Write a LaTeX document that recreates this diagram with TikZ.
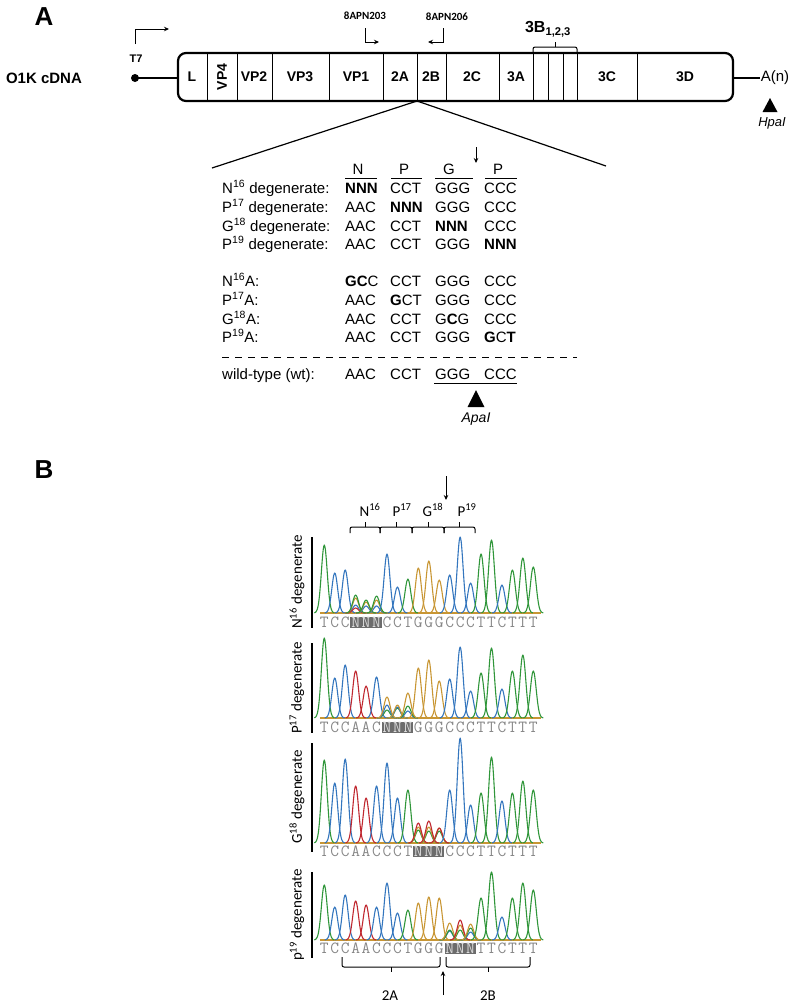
\documentclass[tikz,border=0pt]{standalone}
\usepackage{fontspec}
\setmainfont{Liberation Sans}
\newfontfamily\calfont{Carlito}
\usetikzlibrary{arrows.meta}

\definecolor{cT}{RGB}{48,150,58}
\definecolor{cC}{RGB}{52,118,190}
\definecolor{cG}{RGB}{200,150,52}
\definecolor{cA}{RGB}{192,40,48}
\definecolor{seqgray}{RGB}{135,135,135}
\definecolor{nfond}{RGB}{108,108,108}
\definecolor{nlight}{RGB}{220,220,220}

\newcommand{\nbase}{\textcolor{nlight}{N}}
\newcommand{\peakat}[4]{\draw[trace,#4] plot[domain=-10:10,samples=21,smooth] ({#1+(\x)},{#2-#3*exp(-((\x)*(\x)/17))});}

\tikzset{
  lettre/.style={font=\fontsize{26}{30}\selectfont\bfseries},
  seg/.style={font=\fontsize{14}{17}\selectfont\bfseries},
  primer/.style={font=\calfont\fontsize{11}{13}\selectfont\bfseries},
  tab/.style={anchor=west, inner sep=0pt, text height=11pt, text depth=3pt, font=\fontsize{15}{18}\selectfont},
  fleche/.style={-{Stealth[length=5pt,width=4.5pt]}, line width=1pt},
  brace/.style={line width=1pt, rounded corners=2pt},
  trace/.style={line width=1.1pt, line join=round},
  seqtxt/.style={inner sep=0pt, font=\ttfamily\fontsize{17}{17}\selectfont, text=seqgray},
  nbox/.style={fill=nfond},
  degen/.style={rotate=90, font=\calfont\fontsize{15}{18}\selectfont},
  calh/.style={font=\calfont\fontsize{15}{18}\selectfont},
}

\begin{document}
\begin{tikzpicture}[x=1pt,y=-1pt]
\useasboundingbox (0,0) rectangle (800,1005);

% Panneau A
\node[lettre] (lblA) at (44,17) {A};
\node[font=\fontsize{15}{18}\selectfont\bfseries] (cdna) at (44,78) {O1K cDNA};

% promoteur T7
\coordinate (t7) at (135,78);
\coordinate (t7a) at (135,44);
\coordinate (t7b) at (135,29);
\coordinate (t7c) at (169,29);
\coordinate (boxl) at (178,78);
\fill (t7) circle (4pt);
\node[font=\fontsize{11}{13}\selectfont\bfseries] (t7lbl) at (136,59) {T7};
\draw[fleche] (t7a) -- (t7b) -- (t7c);
\draw[line width=2pt] (t7) -- (boxl);

% genome
\draw[line width=2.2pt, rounded corners=8pt] (178,53) rectangle (733,101);
\foreach \xd in {207,237,272,329,383,417,446,499,533,548,563,577,637}
  \draw[line width=0.7pt] (\xd,53) -- (\xd,101);
\foreach \xl/\nom in {192/L, 254/VP2, 300/VP3, 356/VP1, 400/2A, 431/2B, 472/2C, 516/3A, 607/3C, 685/3D}
  \node[seg] (seg-\nom) at (\xl,77) {\nom};
\node[seg, rotate=90] (seg-VP4) at (222,77) {VP4};

% queue poly(A) et HpaI
\node[font=\fontsize{15}{18}\selectfont, inner sep=1pt] (An) at (775,78) {A(n)};
\draw[line width=2pt] (733,78) -- (An.west);
\fill (770,98) -- (777.5,112) -- (762.5,112) -- cycle;
\node[font=\fontsize{13}{16}\selectfont\itshape] (hpa) at (772,123) {HpaI};

% amorces
\node[primer] (p203) at (365,16) {8APN203};
\node[primer] (p206) at (447,17) {8APN206};
\draw[fleche] (365,28) -- (365,42) -- (379,42);
\draw[fleche] (443,28) -- (443,42) -- (428,42);

% 3B
\node[font=\fontsize{16}{19}\selectfont\bfseries] (b3) at (548,29) {3B\textsubscript{1,2,3}};
\draw[brace] (533,53) -- (533,47) -- (577,47) -- (577,53);
\draw[brace] (555,47) -- (555,42);

% agrandissement 2A/2B
\coordinate (zo) at (417,101);
\coordinate (zl) at (212,168);
\coordinate (zr) at (606,166);
\draw[line width=1.2pt] (zl) -- (zo) -- (zr);

% codons
\foreach \xc/\aa/\xa/\xb [count=\j] in {358/N/345/377, 404/P/391/422, 449/G/435/473, 498/P/485/517} {
  \node[font=\fontsize{15}{18}\selectfont] (aa\j) at (\xc,169) {\aa};
  \draw[line width=0.8pt] (\xa,178) -- (\xb,178);
}
\draw[fleche] (476,147) -- (476,163);

\foreach \yr/\nom/\ca/\cb/\cc/\cd [count=\r] in {
  189/{N\textsuperscript{16} degenerate:}/\textbf{NNN}/CCT/GGG/CCC,
  208/{P\textsuperscript{17} degenerate:}/AAC/\textbf{NNN}/GGG/CCC,
  227/{G\textsuperscript{18} degenerate:}/AAC/CCT/\textbf{NNN}/CCC,
  245/{P\textsuperscript{19} degenerate:}/AAC/CCT/GGG/\textbf{NNN},
  282/{N\textsuperscript{16}A:}/\textbf{GC}C/CCT/GGG/CCC,
  301/{P\textsuperscript{17}A:}/AAC/\textbf{G}CT/GGG/CCC,
  320/{G\textsuperscript{18}A:}/AAC/CCT/G\textbf{C}G/CCC,
  338/{P\textsuperscript{19}A:}/AAC/CCT/GGG/\textbf{G}C\textbf{T},
  375/{wild-type (wt):}/AAC/CCT/GGG/CCC}{
  \node[tab] (lab\r) at (222,\yr) {\nom};
  \node[tab] (ca\r) at (345,\yr) {\ca};
  \node[tab] (cb\r) at (390,\yr) {\cb};
  \node[tab] (cc\r) at (435,\yr) {\cc};
  \node[tab] (cd\r) at (484,\yr) {\cd};
}
\draw[line width=1pt, dash pattern=on 6.5pt off 6.5pt] (222,357) -- (577,357);
\draw[line width=0.8pt] (434,383) -- (517,383);
\fill (476,390) -- (484.5,407) -- (467.5,407) -- cycle;
\node[font=\fontsize{14}{17}\selectfont\itshape] (apa) at (476,419) {ApaI};

% Panneau B
\node[lettre] (lblB) at (44,470) {B};
\draw[fleche] (446,476) -- (446,500);
\foreach \xc/\aa [count=\j] in {370/N\textsuperscript{16}, 402/P\textsuperscript{17}, 433/G\textsuperscript{18}, 467/P\textsuperscript{19}}
  \node[calh] (hd\j) at (\xc,510) {\aa};
\foreach \xa/\xb in {350/380, 380/412, 412/444, 444/475} {
  \draw[brace] (\xa,533) -- (\xa,527) -- (\xb,527) -- (\xb,533);
  \draw[brace] ({(\xa+\xb)/2},527) -- ({(\xa+\xb)/2},522);
}

% N16 degenerate
\foreach \col in {cT,cC,cA,cG} \draw[trace,\col] (320,613) -- (541,613);
\foreach \i/\h/\col in {0/68/cT, 1/40/cC, 2/43/cC, 3/8/cC, 3/5/cA, 3/15/cG, 3/18/cT, 4/7/cC, 4/11/cG, 4/13/cT, 5/7/cC, 5/13/cG, 5/17/cT, 6/59/cC, 7/26/cC, 8/34/cT, 9/45/cG, 10/52/cG, 11/33/cG, 12/38/cC, 13/76/cC, 14/30/cC, 15/59/cT, 16/73/cT, 17/28/cC, 18/43/cT, 19/55/cT, 20/46/cT}
  {\peakat{324.3+10.45*\i}{613}{\h}{\col}}
\fill[nbox] ({324.3+10.45*3-5.2},616.5) rectangle ({324.3+10.45*5+5.2},627.5);
\foreach \lettre [count=\k from 0] in {T,C,C,\nbase,\nbase,\nbase,C,C,T,G,G,G,C,C,C,T,T,C,T,T,T}
  \node[seqtxt] (sa-\k) at ({324.3+10.45*\k},622) {\lettre};
\draw[line width=1.4pt] (312,537) -- (312,628);
\node[degen] (deg1) at (297,582) {N\textsuperscript{16} degenerate};

% P17 degenerate
\foreach \col in {cT,cC,cA,cG} \draw[trace,\col] (320,718) -- (541,718);
\foreach \i/\h/\col in {0/80/cT, 1/40/cC, 2/53/cC, 3/47/cA, 4/32/cA, 5/41/cC, 6/8/cT, 6/13/cC, 6/21/cG, 7/10/cT, 7/11/cC, 7/13/cG, 8/7/cC, 8/12/cT, 8/25/cG, 9/50/cG, 10/58/cG, 11/37/cG, 12/39/cC, 13/71/cC, 14/27/cC, 15/45/cT, 16/70/cT, 17/29/cC, 18/47/cT, 19/63/cT, 20/47/cT}
  {\peakat{324.3+10.45*\i}{718}{\h}{\col}}
\fill[nbox] ({324.3+10.45*6-5.2},721.5) rectangle ({324.3+10.45*8+5.2},732.5);
\foreach \lettre [count=\k from 0] in {T,C,C,A,A,C,\nbase,\nbase,\nbase,G,G,G,C,C,C,T,T,C,T,T,T}
  \node[seqtxt] (sb-\k) at ({324.3+10.45*\k},727) {\lettre};
\draw[line width=1.4pt] (312,643) -- (312,733);
\node[degen] (deg2) at (297,688) {P\textsuperscript{17} degenerate};

% G18 degenerate
\foreach \col in {cT,cC,cA,cG} \draw[trace,\col] (320,843) -- (541,843);
\foreach \i/\h/\col in {0/83/cT, 1/60/cC, 2/84/cC, 3/57/cA, 4/45/cA, 5/57/cC, 6/80/cC, 7/45/cC, 8/53/cT, 9/13/cT, 9/16/cG, 9/20/cA, 10/12/cT, 10/16/cG, 10/22/cA, 11/12/cT, 11/15/cG, 11/15/cA, 12/53/cC, 13/105/cC, 14/38/cC, 15/50/cT, 16/86/cT, 17/42/cC, 18/50/cT, 19/62/cT, 20/53/cT}
  {\peakat{324.3+10.45*\i}{843}{\h}{\col}}
\fill[nbox] ({324.3+10.45*9-5.2},845.5) rectangle ({324.3+10.45*11+5.2},856.5);
\foreach \lettre [count=\k from 0] in {T,C,C,A,A,C,C,C,T,\nbase,\nbase,\nbase,C,C,C,T,T,C,T,T,T}
  \node[seqtxt] (sc-\k) at ({324.3+10.45*\k},851) {\lettre};
\draw[line width=1.4pt] (312,743) -- (312,852);
\node[degen] (deg3) at (297,797) {G\textsuperscript{18} degenerate};

% p19 degenerate
\foreach \col in {cT,cC,cA,cG} \draw[trace,\col] (320,940) -- (541,940);
\foreach \i/\h/\col in {0/55/cT, 1/33/cC, 2/45/cC, 3/39/cA, 4/35/cA, 5/33/cC, 6/57/cC, 7/27/cC, 8/30/cT, 9/37/cG, 10/43/cG, 11/42/cG, 12/9/cC, 12/10/cT, 12/17/cG, 13/10/cT, 13/15/cG, 13/20/cA, 14/8/cC, 14/12/cT, 14/16/cG, 15/42/cT, 16/68/cT, 17/23/cC, 18/42/cT, 19/57/cT, 20/50/cT}
  {\peakat{324.3+10.45*\i}{940}{\h}{\col}}
\fill[nbox] ({324.3+10.45*12-5.2},942.5) rectangle ({324.3+10.45*14+5.2},953.5);
\foreach \lettre [count=\k from 0] in {T,C,C,A,A,C,C,C,T,G,G,G,\nbase,\nbase,\nbase,T,T,C,T,T,T}
  \node[seqtxt] (sd-\k) at ({324.3+10.45*\k},948) {\lettre};
\draw[line width=1.4pt] (312,872) -- (312,958);
\node[degen] (deg4) at (297,915) {p\textsuperscript{19} degenerate};

% jonction 2A/2B
\draw[brace] (342,957) -- (342,967) -- (440,967) -- (440,957);
\draw[brace] (391,967) -- (391,972);
\draw[brace] (446,957) -- (446,967) -- (530,967) -- (530,957);
\draw[brace] (488,967) -- (488,972);
\draw[fleche] (443,995) -- (443,971);
\node[calh] (d2a) at (390,996) {2A};
\node[calh] (d2b) at (488,996) {2B};
\end{tikzpicture}
\end{document}
